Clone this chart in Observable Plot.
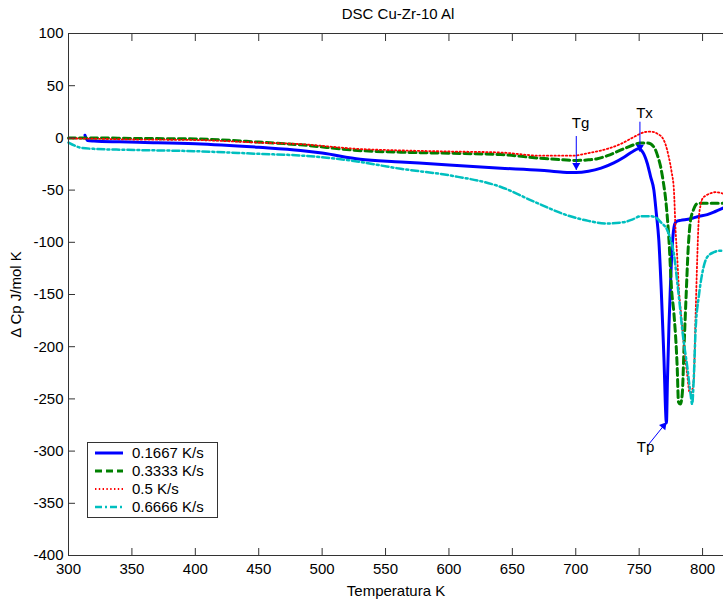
<!DOCTYPE html>
<html>
<head>
<meta charset="utf-8">
<script src="https://cdn.jsdelivr.net/npm/d3@7"></script>
<script src="https://cdn.jsdelivr.net/npm/@observablehq/plot@0.6"></script>
<style>
  body { margin: 0; background: #fff; font-family: "Liberation Sans", Arial, sans-serif; }
  #fig { position: relative; width: 723px; height: 599px; overflow: hidden; background: #fff; }
  #fig > svg { position: absolute; left: 0; top: 0; }
  #title { position: absolute; left: 0; top: 0; width: 796px; height: 28px; line-height: 28px; text-align: center; font-size: 15px; color: #000; z-index: 1; }
  #legend { position: absolute; left: 87px; top: 442px; width: 131px; height: 76px; box-sizing: border-box;
            border: 1px solid #333; background: #fff; font-size: 15px; z-index: 1; }
  #legend .row { position: absolute; left: 0; height: 18px; width: 100%; }
  #legend svg { position: absolute; left: 7px; top: 7px; }
  #legend span { position: absolute; left: 44px; top: 0; line-height: 18px; white-space: nowrap; }
</style>
</head>
<body>
<div id="fig">
  <div id="title">DSC Cu-Zr-10 Al</div>
  <div id="legend"></div>
</div>
<script>
// Heating-rate series: temperature (K) and ΔCp (J/mol K)
const blueT = [313, 315, 320, 340, 360, 400, 450, 483, 500, 530, 562, 600, 641, 672, 690, 700, 710, 720, 730, 738, 745, 749.5, 753, 756.3, 759, 761.6, 763.5, 765.5, 767.4, 769.5, 771.5, 772.3, 773.5, 774.8, 776, 777.4, 778.7, 780.5, 782.6, 790.5, 796, 803.7, 810, 816.5];
const blueV = [2.5, -2.5, -3, -3.8, -4.3, -5.5, -9, -12, -14.5, -20.5, -23, -26, -29, -31, -32.8, -33.2, -32, -29, -24, -18.5, -13, -10.5, -14, -24, -37, -50, -72, -98, -145, -210, -273, -232, -180, -137, -105, -86, -81, -79.5, -79, -77.5, -75.5, -73.5, -70.5, -67];

const greenT = [300, 320, 350, 400, 450, 483, 528, 562, 600, 641, 672, 690, 701, 710, 717, 725, 733, 740.6, 746, 751, 756.8, 761.8, 764.5, 767, 769, 771, 773.5, 775.6, 777.4, 780, 781, 782.5, 784, 785.4, 787, 788.7, 790.5, 792.5, 795.8, 801, 808, 816.5];
const greenV = [0, 0, -0.5, -1, -4, -6.6, -12, -13.7, -14.7, -16, -19.5, -21, -21.6, -21, -20, -17, -13, -9, -6.5, -5, -5, -9, -17, -28, -42, -60, -98, -146, -168, -220, -253, -255, -245, -200, -152, -105, -79, -70, -63, -62.5, -62.5, -62.5];

const redT = [300, 320, 350, 400, 450, 483, 528, 562, 600, 641, 672, 698, 710, 724.8, 735, 743, 750, 754, 758, 761.8, 765, 768, 771, 773.4, 775.5, 777.4, 778.7, 780, 781.4, 783, 785.4, 788, 789.8, 791, 793, 794.5, 795.8, 797, 798.5, 800, 803, 806.3, 810, 816.5];
const redV = [-0.5, -0.8, -1.5, -2, -4.5, -6, -10.5, -12, -13, -14, -17, -17, -14.5, -10.5, -6, -1, 3.5, 5.5, 6, 5.5, 3.5, 0.7, -7, -18.5, -32, -50, -88, -114, -146, -168, -200, -228, -244, -244, -232, -170, -115, -78, -64, -58, -55, -53, -52, -53.5];

const cyanT = [300, 305, 310, 320, 346, 399, 451, 483, 522, 562, 601, 641, 667, 693, 710, 724.8, 738, 745, 751, 759, 764, 767, 772, 775, 777.5, 780, 782, 784, 788, 790.5, 791.8, 793, 794.5, 797, 799.7, 803.7, 809, 813, 816.5];
const cyanV = [-4.5, -7.5, -9.5, -10.5, -11.4, -12.7, -15.3, -16.9, -21.6, -29.6, -36, -47, -61, -74, -79.5, -82, -80.7, -78, -75, -75, -77, -80.7, -88, -98, -112, -138, -160, -184, -220, -245, -255, -232, -184, -152, -130, -114, -109.5, -108, -108];

const seriesNames = ["0.1667 K/s", "0.3333 K/s", "0.5 K/s", "0.6666 K/s"];

// Axis ticks
const xTicks = [300, 350, 400, 450, 500, 550, 600, 650, 700, 750, 800];
const yTicks = [100, 50, 0, -50, -100, -150, -200, -250, -300, -350, -400];

// Annotations: glass transition, crystallization onset, peak
const annLabel = ["Tg", "Tx", "Tp"];
const annTextT = [703.8, 754.2, 755];
const annTextV = [13.9, 24.1, -296.7];
const arrowT1 = [700.4, 750.6, 756.4];
const arrowV1 = [1.8, 15.5, -295.2];
const arrowT2 = [700.4, 750.6, 771.6];
const arrowV2 = [-30.7, -13.2, -272.3];
const arrowAngle = [180, 180, 39];

const styles = [
  {color: "#0000ff", width: 3, dash: null},
  {color: "#008000", width: 3, dash: "7,4"},
  {color: "#ff0000", width: 1.8, dash: "1.4,2.4"},
  {color: "#00bfbf", width: 2.5, dash: "7,3,2,3"}
];
const seriesData = [[blueT, blueV], [greenT, greenV], [redT, redV], [cyanT, cyanV]]
  .map(([T, V]) => T.map((t, i) => ({T: t, v: V[i]})));

const ann = annLabel.map((label, i) => ({
  label, tx: annTextT[i], tv: annTextV[i],
  x1: arrowT1[i], y1: arrowV1[i], x2: arrowT2[i], y2: arrowV2[i], angle: arrowAngle[i]
}));

// Arrowhead: filled triangle whose tip sits on the arrow end
const headR = 3;
const tipDist = 2 * Math.sqrt((Math.PI * headR * headR) / (3 * Math.sqrt(3)));
const heads = ann.map(a => {
  const th = a.angle * Math.PI / 180;
  return Plot.dot([a], {
    x: "x2", y: "y2", r: headR, symbol: "triangle", rotate: a.angle,
    fill: "#0000ff", stroke: "none",
    dx: -tipDist * Math.sin(th), dy: tipDist * Math.cos(th)
  });
});

const axisColor = "#333";
const plain = d => String(d);

const chart = Plot.plot({
  width: 723,
  height: 599,
  marginTop: 33,
  marginBottom: 44,
  marginLeft: 68,
  marginRight: 0,
  style: {fontFamily: "'Liberation Sans', Arial, sans-serif", fontSize: "15px", color: "#000", background: "#fff"},
  x: {domain: [300, 816.5]},
  y: {domain: [-400, 100]},
  marks: [
    ...seriesData.map((d, i) => Plot.line(d, {
      x: "T", y: "v", curve: "monotone-x",
      stroke: styles[i].color, strokeWidth: styles[i].width,
      strokeDasharray: styles[i].dash, strokeLinejoin: "round"
    })),
    Plot.link(ann, {x1: "x1", y1: "y1", x2: "x2", y2: "y2", stroke: "#0000ff", strokeWidth: 1}),
    ...heads,
    Plot.text(ann, {x: "tx", y: "tv", text: "label", fontSize: 15, fill: "#000"}),
    Plot.ruleX([300], {stroke: axisColor}),
    Plot.ruleY([100, -400], {stroke: axisColor}),
    Plot.axisY({ticks: yTicks, tickFormat: plain, tickSize: -7, tickPadding: 12, stroke: axisColor, fill: "#000",
      label: "Δ Cp J/mol K", labelAnchor: "center", labelOffset: 58, labelArrow: "none"}),
    Plot.axisX({ticks: xTicks, tickFormat: plain, tickSize: -7, tickPadding: 15, stroke: axisColor, fill: "#000",
      label: "Temperatura K", labelAnchor: "center", labelOffset: 40, labelArrow: "none"}),
    Plot.axisX({anchor: "top", ticks: xTicks, tickSize: -7, stroke: axisColor, tickFormat: () => "", label: null})
  ]
});
document.getElementById("fig").insertBefore(chart, document.getElementById("title"));

// Legend box
const legend = d3.select("#legend");
const rowTops = [1, 19, 37, 55];
seriesNames.forEach((name, i) => {
  const row = legend.append("div").attr("class", "row").style("top", rowTops[i] + "px");
  const svg = row.append("svg").attr("width", 28).attr("height", 4);
  svg.append("line").attr("x1", 0).attr("x2", 28).attr("y1", 2).attr("y2", 2)
    .attr("stroke", styles[i].color).attr("stroke-width", styles[i].width)
    .attr("stroke-dasharray", styles[i].dash);
  row.append("span").text(name);
});
</script>
</body>
</html>
